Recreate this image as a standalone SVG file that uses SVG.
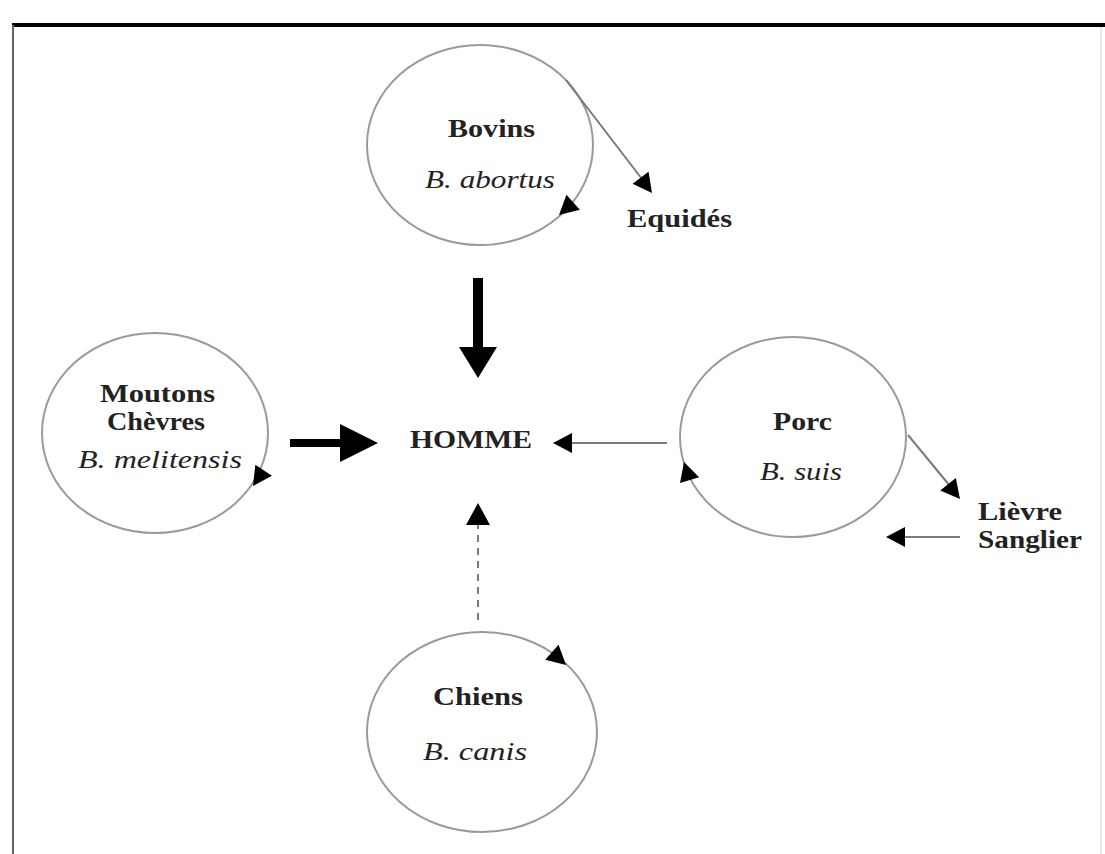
<svg xmlns="http://www.w3.org/2000/svg" width="1105" height="854" viewBox="0 0 1105 854">
<style>
.c{fill:none;stroke:#9a9a9a;stroke-width:2}
.b{font-family:"Liberation Serif","Times New Roman",serif;font-size:25px;font-weight:bold;fill:#222}
.i{font-family:"Liberation Serif","Times New Roman",serif;font-size:25px;font-style:italic;fill:#222}
.ln{stroke:#7a7a7a;stroke-width:2;fill:none}
.hd{fill:#000}
</style>
<defs>
<path id="tri" d="M0,0 L-19,-10 L-19,10 Z"/>
</defs>
<rect x="0" y="0" width="1105" height="854" fill="#fff"/>
<g id="frame">
<line x1="12" y1="25" x2="1105" y2="25" stroke="#000" stroke-width="4"/>
<line x1="13" y1="25" x2="13" y2="854" stroke="#666" stroke-width="2"/>
<line x1="1101" y1="27" x2="1101" y2="854" stroke="#ccc" stroke-width="1"/>
</g>
<g id="bovins">
<ellipse class="c" cx="480" cy="145" rx="113" ry="100"/>
<use href="#tri" class="hd" transform="translate(559,215) rotate(138)"/>
<text class="b" x="448" y="137" textLength="87" lengthAdjust="spacingAndGlyphs">Bovins</text>
<text class="i" x="425" y="188" textLength="130" lengthAdjust="spacingAndGlyphs">B. abortus</text>
</g>
<g id="equides">
<text class="b" x="627" y="227" textLength="105" lengthAdjust="spacingAndGlyphs">Equidés</text>
</g>
<g id="moutons">
<ellipse class="c" cx="155" cy="433" rx="113" ry="100"/>
<use href="#tri" class="hd" transform="translate(253,486) rotate(124)"/>
<text class="b" x="100" y="402" textLength="115" lengthAdjust="spacingAndGlyphs">Moutons</text>
<text class="b" x="107" y="430" textLength="98" lengthAdjust="spacingAndGlyphs">Chèvres</text>
<text class="i" x="78" y="468" textLength="164" lengthAdjust="spacingAndGlyphs">B. melitensis</text>
</g>
<g id="homme">
<text class="b" x="410" y="448" textLength="122" lengthAdjust="spacingAndGlyphs">HOMME</text>
</g>
<g id="porc">
<ellipse class="c" cx="793" cy="437" rx="113" ry="100"/>
<use href="#tri" class="hd" transform="translate(684,462) rotate(-107)"/>
<text class="b" x="773" y="430" textLength="59" lengthAdjust="spacingAndGlyphs">Porc</text>
<text class="i" x="760" y="480" textLength="82" lengthAdjust="spacingAndGlyphs">B. suis</text>
</g>
<g id="lievre">
<text class="b" x="978" y="520" textLength="84" lengthAdjust="spacingAndGlyphs">Lièvre</text>
<text class="b" x="978" y="548" textLength="104" lengthAdjust="spacingAndGlyphs">Sanglier</text>
</g>
<g id="chiens">
<ellipse class="c" cx="482" cy="732" rx="115" ry="100"/>
<use href="#tri" class="hd" transform="translate(566,665) rotate(42)"/>
<text class="b" x="433" y="705" textLength="90" lengthAdjust="spacingAndGlyphs">Chiens</text>
<text class="i" x="423" y="760" textLength="104" lengthAdjust="spacingAndGlyphs">B. canis</text>
</g>
<g id="connectors">
<line class="ln" x1="566" y1="80" x2="642" y2="179"/>
<use href="#tri" class="hd" transform="translate(652,193) rotate(53)"/>
<line x1="478" y1="278" x2="478" y2="350" stroke="#000" stroke-width="10"/>
<path class="hd" d="M459,347 L497,347 L478,378 Z"/>
<line x1="290" y1="443" x2="342" y2="443" stroke="#000" stroke-width="8"/>
<path class="hd" d="M340,424 L340,462 L378,443 Z"/>
<line class="ln" x1="667" y1="443" x2="570" y2="443"/>
<use href="#tri" class="hd" transform="translate(553,443) rotate(180)"/>
<line class="ln" x1="478" y1="620" x2="478" y2="522" stroke-dasharray="7 6"/>
<path class="hd" d="M466,525 L490,525 L478,503 Z"/>
<line class="ln" x1="908" y1="435" x2="950" y2="486"/>
<use href="#tri" class="hd" transform="translate(960,499) rotate(51)"/>
<line class="ln" x1="960" y1="537" x2="900" y2="537"/>
<use href="#tri" class="hd" transform="translate(886,537) rotate(180)"/>
</g>
</svg>
